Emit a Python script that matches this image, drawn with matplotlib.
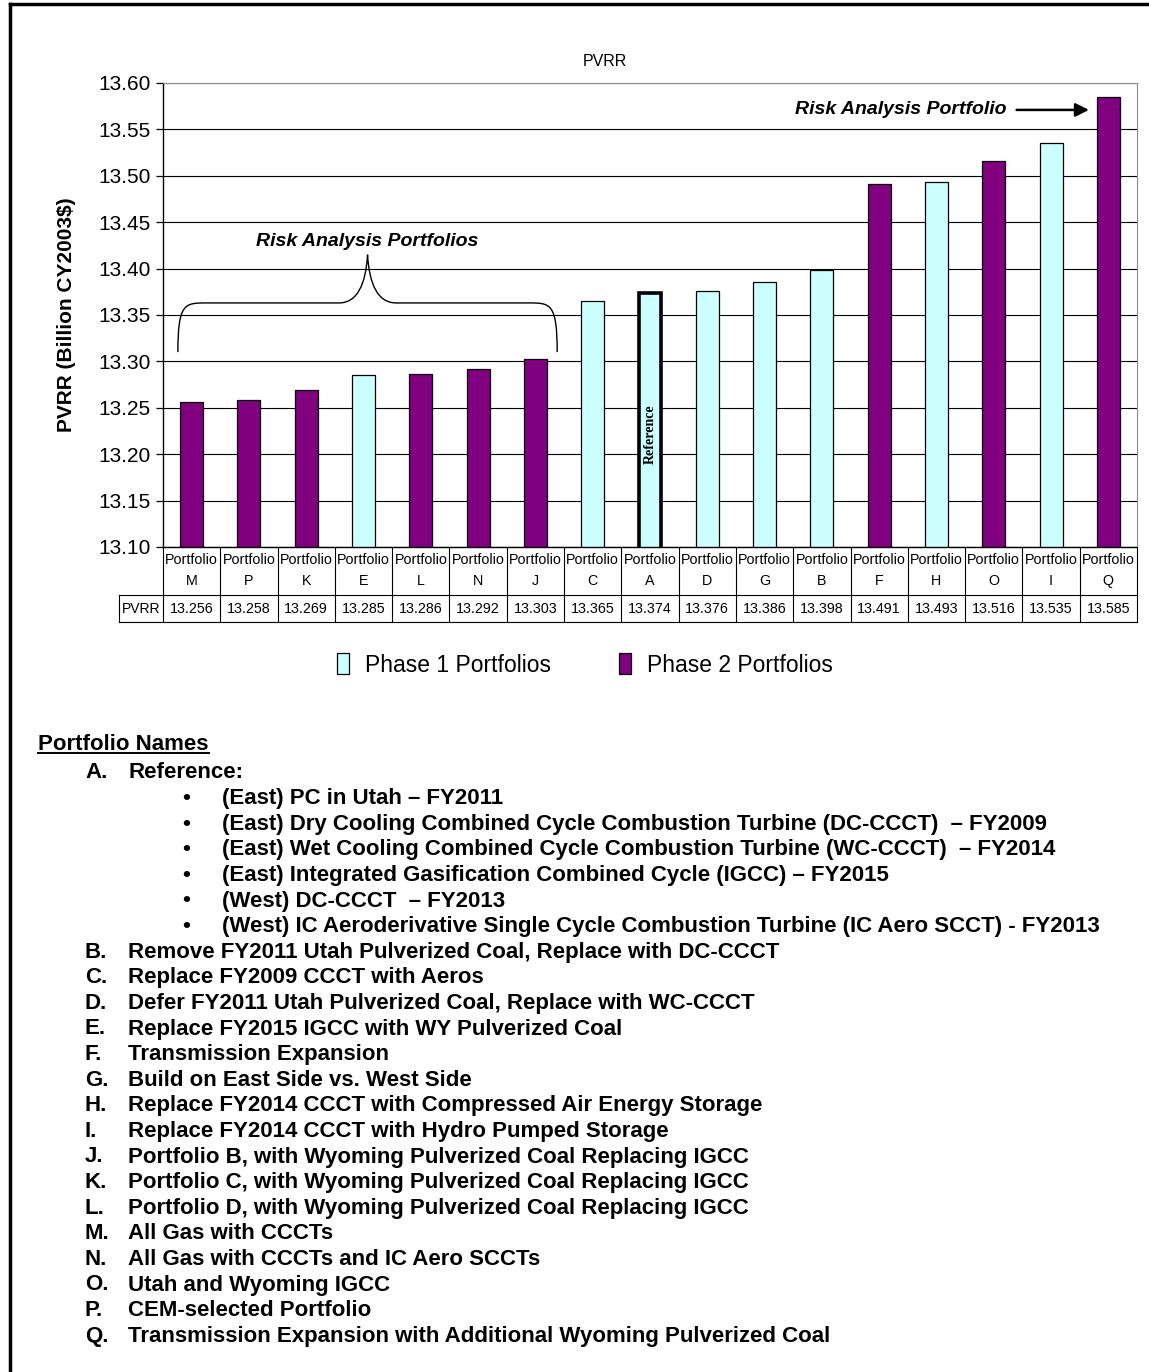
import numpy as np
import matplotlib.pyplot as plt
from matplotlib.lines import Line2D
from matplotlib.patches import Patch, PathPatch
from matplotlib.path import Path
from matplotlib.transforms import blended_transform_factory

plt.rcParams['font.family'] = ['Liberation Sans', 'DejaVu Sans']

# PVRR by portfolio, sorted low to high
portfolios = ['M', 'P', 'K', 'E', 'L', 'N', 'J', 'C', 'A', 'D', 'G', 'B', 'F', 'H', 'O', 'I', 'Q']
pvrr = [13.256, 13.258, 13.269, 13.285, 13.286, 13.292, 13.303, 13.365, 13.374,
        13.376, 13.386, 13.398, 13.491, 13.493, 13.516, 13.535, 13.585]
phase = [2, 2, 2, 1, 2, 2, 2, 1, 1, 1, 1, 1, 2, 1, 2, 1, 2]
y_ticks = [13.10, 13.15, 13.20, 13.25, 13.30, 13.35, 13.40, 13.45, 13.50, 13.55, 13.60]

phase_names = {1: 'Phase 1 Portfolios', 2: 'Phase 2 Portfolios'}
phase_colors = {1: '#CCFFFF', 2: '#800080'}

reference_items = [
    '(East) PC in Utah \u2013 FY2011',
    '(East) Dry Cooling Combined Cycle Combustion Turbine (DC-CCCT)  \u2013 FY2009',
    '(East) Wet Cooling Combined Cycle Combustion Turbine (WC-CCCT)  \u2013 FY2014',
    '(East) Integrated Gasification Combined Cycle (IGCC) \u2013 FY2015',
    '(West) DC-CCCT  \u2013 FY2013',
    '(West) IC Aeroderivative Single Cycle Combustion Turbine (IC Aero SCCT) - FY2013',
]
portfolio_names = [
    ('B.', 'Remove FY2011 Utah Pulverized Coal, Replace with DC-CCCT'),
    ('C.', 'Replace FY2009 CCCT with Aeros'),
    ('D.', 'Defer FY2011 Utah Pulverized Coal, Replace with WC-CCCT'),
    ('E.', 'Replace FY2015 IGCC with WY Pulverized Coal'),
    ('F.', 'Transmission Expansion'),
    ('G.', 'Build on East Side vs. West Side'),
    ('H.', 'Replace FY2014 CCCT with Compressed Air Energy Storage'),
    ('I.', 'Replace FY2014 CCCT with Hydro Pumped Storage'),
    ('J.', 'Portfolio B, with Wyoming Pulverized Coal Replacing IGCC'),
    ('K.', 'Portfolio C, with Wyoming Pulverized Coal Replacing IGCC'),
    ('L.', 'Portfolio D, with Wyoming Pulverized Coal Replacing IGCC'),
    ('M.', 'All Gas with CCCTs'),
    ('N.', 'All Gas with CCCTs and IC Aero SCCTs'),
    ('O.', 'Utah and Wyoming IGCC'),
    ('P.', 'CEM-selected Portfolio'),
    ('Q.', 'Transmission Expansion with Additional Wyoming Pulverized Coal'),
]

W, H = 1149, 1372


def fx(px):
    return px / W


def fy(py):
    return 1 - py / H


fig = plt.figure(figsize=(W / 100, H / 100), dpi=100)

# plot area
ax_left, ax_right, ax_top, ax_bottom = 163, 1137, 83, 547
ax = fig.add_axes([fx(ax_left), fy(ax_bottom), fx(ax_right - ax_left), (ax_bottom - ax_top) / H])

x = np.arange(len(portfolios))
colors = [phase_colors[p] for p in phase]
bars = ax.bar(x, pvrr, width=0.4, color=colors, edgecolor='black', linewidth=0.9, zorder=2)

ref_idx = portfolios.index('A')
bars[ref_idx].set_linewidth(2.6)
ax.text(ref_idx, 13.222, 'Reference', rotation=90, ha='center', va='center',
        fontsize=10, fontweight='bold', family=['Liberation Serif', 'DejaVu Serif'], zorder=3)

ax.set_xlim(-0.5, len(portfolios) - 0.5)
ax.set_ylim(13.10, 13.60)
ax.set_yticks(y_ticks)
ax.set_yticklabels([f'{v:.2f}' for v in y_ticks], fontsize=15)
ax.tick_params(axis='y', length=5, width=0.9, pad=4)
ax.set_xticks([])
ax.yaxis.grid(True, color='black', linewidth=0.8)
ax.set_axisbelow(True)
for side in ['top', 'right']:
    ax.spines[side].set_color('#8c8c8c')
ax.spines['left'].set_linewidth(1.0)
ax.spines['bottom'].set_linewidth(1.0)

# data table below the bars
cat_px = (ax_right - ax_left) / len(portfolios)
ax_h = ax_bottom - ax_top
trans = blended_transform_factory(ax.transData, ax.transAxes)
row1 = -(595 - ax_bottom) / ax_h
row2 = -(622 - ax_bottom) / ax_h
hdr_left = -0.5 - (ax_left - 119) / cat_px
tbl = dict(transform=trans, color='black', linewidth=0.8, clip_on=False)
for k in range(len(portfolios) + 1):
    ax.plot([k - 0.5, k - 0.5], [0, row2], **tbl)
ax.plot([hdr_left, len(portfolios) - 0.5], [row1, row1], **tbl)
ax.plot([hdr_left, len(portfolios) - 0.5], [row2, row2], **tbl)
ax.plot([hdr_left, hdr_left], [row1, row2], **tbl)

for i, (name, val) in enumerate(zip(portfolios, pvrr)):
    ax.text(i, -(560 - ax_bottom) / ax_h, 'Portfolio', transform=trans,
            ha='center', va='center', fontsize=10.3)
    ax.text(i, -(581 - ax_bottom) / ax_h, name, transform=trans,
            ha='center', va='center', fontsize=10.3)
    ax.text(i, -(609 - ax_bottom) / ax_h, f'{val:.3f}', transform=trans,
            ha='center', va='center', fontsize=10.3)
ax.text((hdr_left - 0.5) / 2, -(609 - ax_bottom) / ax_h, 'PVRR', transform=trans,
        ha='center', va='center', fontsize=10)

# brace over the risk analysis group
bl, br, bm = -0.24, 6.38, 3.07
yb, yh, yp = 13.310, 13.363, 13.415
verts = [
    (bl, yb), (bl, yh), (bl + 0.12, yh), (bl + 0.5, yh),
    (bm - 0.5, yh),
    (bm - 0.18, yh), (bm - 0.03, yh + 0.02), (bm, yp),
    (bm + 0.03, yh + 0.02), (bm + 0.18, yh), (bm + 0.5, yh),
    (br - 0.5, yh),
    (br - 0.12, yh), (br, yh), (br, yb),
]
codes = [Path.MOVETO, Path.CURVE4, Path.CURVE4, Path.CURVE4,
         Path.LINETO,
         Path.CURVE4, Path.CURVE4, Path.CURVE4,
         Path.CURVE4, Path.CURVE4, Path.CURVE4,
         Path.LINETO,
         Path.CURVE4, Path.CURVE4, Path.CURVE4]
ax.add_patch(PathPatch(Path(verts, codes), facecolor='none', edgecolor='black',
                       linewidth=1.0, clip_on=False, zorder=4))
ax.text(bm, 13.429, 'Risk Analysis Portfolios', ha='center', va='center',
        fontsize=14, fontweight='bold', style='italic')

# callout for the top portfolio
q_idx = portfolios.index('Q')
ax.text(q_idx - 1.78, 13.571, 'Risk Analysis Portfolio', ha='right', va='center',
        fontsize=14, fontweight='bold', style='italic')
ax.annotate('', xy=(q_idx - 0.29, 13.571), xytext=(q_idx - 1.65, 13.571),
            arrowprops=dict(arrowstyle='-|>', color='black', lw=1.8, mutation_scale=20))

fig.text(fx(605), fy(62), 'PVRR', ha='center', va='center', fontsize=11.5)
fig.text(fx(66), fy((ax_top + ax_bottom) / 2), 'PVRR (Billion CY2003$)', rotation=90,
         ha='center', va='center', fontsize=15, fontweight='bold')

handles = [Patch(facecolor=phase_colors[p], edgecolor='black', linewidth=0.9) for p in (1, 2)]
fig.legend(handles, [phase_names[1], phase_names[2]], loc='center',
           bbox_to_anchor=(fx(585), fy(665)), ncol=2, frameon=False, fontsize=16.5,
           handlelength=0.5, handleheight=1.0, handletextpad=0.7, columnspacing=3.0)

# portfolio name list
fs = 16
heading = fig.text(fx(38), fy(745), 'Portfolio Names', ha='left', va='center',
                   fontsize=fs, fontweight='bold')
step = 25.6
col_letter, col_text, col_bullet, col_btext = 85, 128, 182, 222
fig.text(fx(col_letter), fy(773), 'A.', ha='left', va='center', fontsize=fs, fontweight='bold')
fig.text(fx(col_text), fy(773), 'Reference:', ha='left', va='center', fontsize=fs, fontweight='bold')
for k, item in enumerate(reference_items):
    yy = 773 + step * (k + 1)
    fig.text(fx(col_bullet), fy(yy), '\u2022', ha='left', va='center', fontsize=fs, fontweight='bold')
    fig.text(fx(col_btext), fy(yy), item, ha='left', va='center', fontsize=fs, fontweight='bold')
for k, (letter, text) in enumerate(portfolio_names):
    yy = 773 + step * (len(reference_items) + 1 + k)
    fig.text(fx(col_letter), fy(yy), letter, ha='left', va='center', fontsize=fs, fontweight='bold')
    fig.text(fx(col_text), fy(yy), text, ha='left', va='center', fontsize=fs, fontweight='bold')

fig.canvas.draw()
bb = heading.get_window_extent().transformed(fig.transFigure.inverted())
fig.add_artist(Line2D([bb.x0, bb.x1], [bb.y0 + 0.0015, bb.y0 + 0.0015],
                      transform=fig.transFigure, color='black', linewidth=1.4))

# outer frame (top and left edges)
fig.add_artist(Line2D([fx(10), 1], [fy(4), fy(4)], transform=fig.transFigure,
                      color='black', linewidth=2.5))
fig.add_artist(Line2D([fx(10), fx(10)], [0, fy(4)], transform=fig.transFigure,
                      color='black', linewidth=2.5))

fig.savefig('out.png', dpi=100)
